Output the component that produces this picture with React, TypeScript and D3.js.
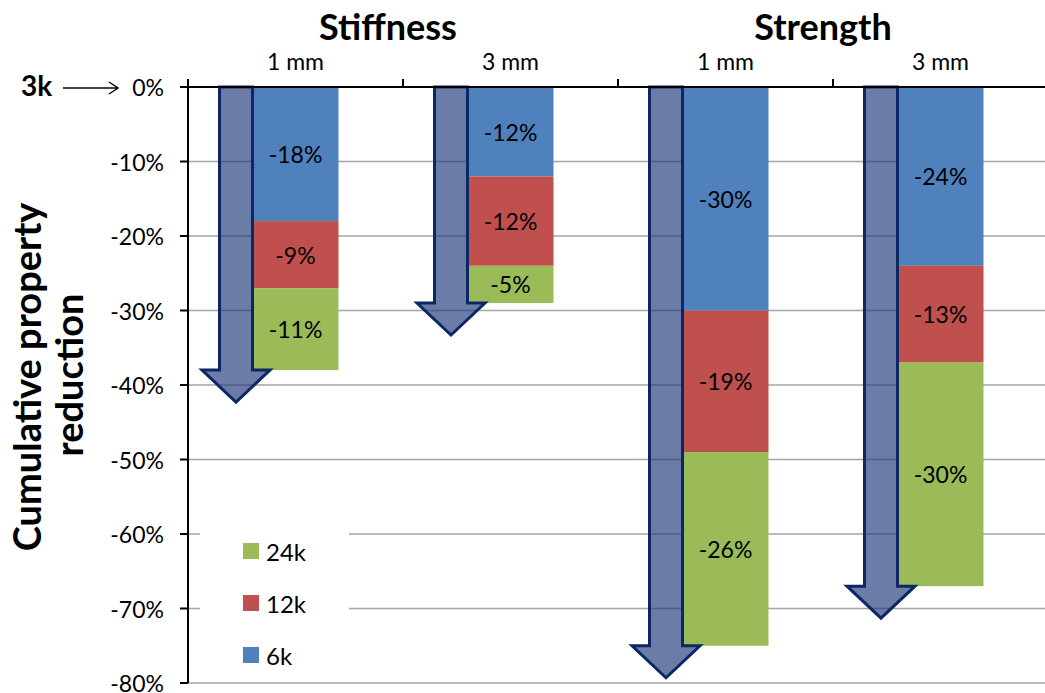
import React from "react";
import * as d3 from "d3";

// Cumulative property reduction per tow size, relative to the 3k baseline
const groups = ["Stiffness", "Strength"];
const categories = ["1 mm", "3 mm", "1 mm", "3 mm"];
const series = ["6k", "12k", "24k"];
const values6k = [-18, -12, -30, -24];
const values12k = [-9, -12, -19, -13];
const values24k = [-11, -5, -26, -30];
const yTicks = [0, -10, -20, -30, -40, -50, -60, -70, -80];

const COLORS: Record<string, string> = { "6k": "#4f81bd", "12k": "#c0504d", "24k": "#9bbb59" };
const FONT = "'Gill Sans MT', 'Gill Sans', Lato, 'Open Sans', sans-serif";

const W = 1045;
const H = 693;
const left = 188;
const right = 1048;
const top = 87;
const bottom = 683;

export default function App() {
  const keys = categories.map((_, i) => `c${i}`);
  const x = d3.scaleBand<string>().domain(keys).range([left, right]).paddingInner(0.6).paddingOuter(0.3);
  const y = d3.scaleLinear().domain([-80, 0]).range([bottom, top]);
  const step = x.step();

  const rows = categories.map((c, i) => ({ key: keys[i], "6k": -values6k[i], "12k": -values12k[i], "24k": -values24k[i] }));
  const stack = d3.stack<any>().keys(series)(rows);

  const totals = categories.map((_, i) => values6k[i] + values12k[i] + values24k[i]);

  const shaftW = 33;
  const headHalf = 34;
  const headLen = 32;

  return (
    <svg width={W} height={H} style={{ position: "absolute", left: 0, top: 0, fontFamily: FONT }}>
      <rect width={W} height={H} fill="#fff" />
      {/* gridlines */}
      {yTicks.filter((t) => t !== 0).map((t) => (
        <line key={t} x1={left} x2={W} y1={y(t)} y2={y(t)} stroke="#a5a5a5" strokeWidth={1.4} />
      ))}
      {/* stacked bars (stored positive, drawn downward) */}
      {stack.map((layer) =>
        layer.map((d, i) => {
          const y0 = y(-d[0]);
          const y1 = y(-d[1]);
          const bx = x(keys[i])!;
          const val = -(d[1] - d[0]);
          return (
            <g key={`${layer.key}-${i}`}>
              <rect x={bx} y={y0} width={x.bandwidth()} height={y1 - y0} fill={COLORS[layer.key]} />
              <text
                x={bx + x.bandwidth() / 2}
                y={(y0 + y1) / 2}
                textAnchor="middle"
                dominantBaseline="central"
                fontSize={23}
                fill="#000"
              >
                {`${val}%`}
              </text>
            </g>
          );
        })
      )}
      {/* cumulative arrows */}
      {totals.map((t, i) => {
        const bx = x(keys[i])!;
        const sx0 = bx - shaftW;
        const sx1 = bx;
        const cx = (sx0 + sx1) / 2;
        const y0 = y(0);
        const yb = y(t);
        const p = [
          [sx0, y0],
          [sx1, y0],
          [sx1, yb],
          [cx + headHalf, yb],
          [cx, yb + headLen],
          [cx - headHalf, yb],
          [sx0, yb],
        ];
        return (
          <path
            key={i}
            d={"M" + p.map((q) => q.join(",")).join("L") + "Z"}
            fill="rgba(31,56,120,0.66)"
            stroke="#0d2766"
            strokeWidth={3}
            strokeLinejoin="miter"
          />
        );
      })}
      {/* axes */}
      <line x1={left} x2={left} y1={top - 8} y2={bottom} stroke="#000" strokeWidth={2} />
      <line x1={left - 8} x2={W} y1={top} y2={top} stroke="#000" strokeWidth={2} />
      {yTicks.map((t) => (
        <g key={t}>
          <line x1={left - 8} x2={left} y1={y(t)} y2={y(t)} stroke="#000" strokeWidth={2} />
          <text x={164} y={y(t)} textAnchor="end" dominantBaseline="central" fontSize={23}>
            {`${t}%`}
          </text>
        </g>
      ))}
      {d3.range(1, categories.length).map((i) => (
        <line key={i} x1={left + i * step} x2={left + i * step} y1={top - 8} y2={top} stroke="#000" strokeWidth={2} />
      ))}
      {/* category labels and group titles */}
      {categories.map((c, i) => (
        <text key={i} x={x(keys[i])! + x.bandwidth() / 2} y={70} textAnchor="middle" fontSize={23}>
          {c}
        </text>
      ))}
      {groups.map((g, gi) => (
        <text key={g} x={gi === 0 ? 388 : 823} y={40} textAnchor="middle" fontSize={36} fontWeight="bold">
          {g}
        </text>
      ))}
      {/* baseline marker */}
      <text x={21} y={96} fontSize={28} fontWeight="bold">3k</text>
      <line x1={63} x2={117} y1={88} y2={88} stroke="#000" strokeWidth={1.5} />
      <path d="M109,82 L118,88 L109,94" fill="none" stroke="#000" strokeWidth={1.5} />
      {/* y-axis title */}
      <g transform="translate(41,377) rotate(-90)">
        <text x={0} y={0} textAnchor="middle" fontSize={38} fontWeight="bold">Cumulative property</text>
      </g>
      <g transform="translate(83,375) rotate(-90)">
        <text x={0} y={0} textAnchor="middle" fontSize={38} fontWeight="bold">reduction</text>
      </g>
      {/* legend */}
      <rect x={200} y={515} width={149} height={163} fill="#fff" />
      {["24k", "12k", "6k"].map((k, i) => (
        <g key={k}>
          <rect x={243} y={543 + i * 52} width={16} height={16} fill={COLORS[k]} />
          <text x={266} y={551 + i * 52} dominantBaseline="central" fontSize={24}>
            {k}
          </text>
        </g>
      ))}
    </svg>
  );
}
